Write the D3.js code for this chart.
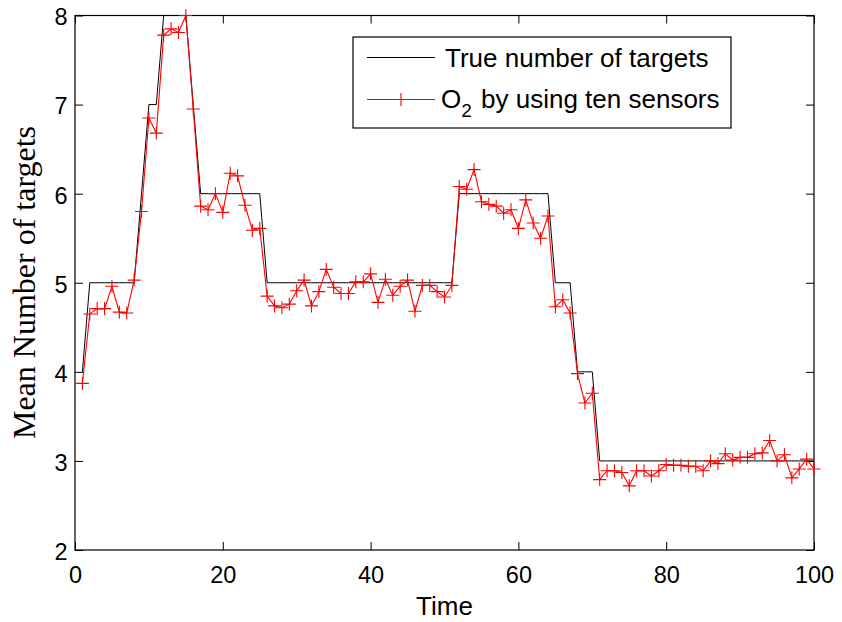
<!DOCTYPE html>
<html>
<head>
<meta charset="utf-8">
<script src="https://cdn.jsdelivr.net/npm/d3@7"></script>
<style>
  body { margin: 0; background: #fff; }
  svg { display: block; }
  text { font-family: "Liberation Sans", Arial, Helvetica, sans-serif; }
</style>
</head>
<body>
<svg id="chart" width="842" height="622"></svg>
<script>
// Time steps 1..100
const time = [
  1, 2, 3, 4, 5, 6, 7, 8, 9, 10,
  11, 12, 13, 14, 15, 16, 17, 18, 19, 20,
  21, 22, 23, 24, 25, 26, 27, 28, 29, 30,
  31, 32, 33, 34, 35, 36, 37, 38, 39, 40,
  41, 42, 43, 44, 45, 46, 47, 48, 49, 50,
  51, 52, 53, 54, 55, 56, 57, 58, 59, 60,
  61, 62, 63, 64, 65, 66, 67, 68, 69, 70,
  71, 72, 73, 74, 75, 76, 77, 78, 79, 80,
  81, 82, 83, 84, 85, 86, 87, 88, 89, 90,
  91, 92, 93, 94, 95, 96, 97, 98, 99, 100
];

// Ground-truth number of targets at each time step
const trueTargets = [
  4, 5, 5, 5, 5, 5, 5, 5, 6, 7,
  7, 8, 8, 8, 8, 7, 6, 6, 6, 6,
  6, 6, 6, 6, 6, 5, 5, 5, 5, 5,
  5, 5, 5, 5, 5, 5, 5, 5, 5, 5,
  5, 5, 5, 5, 5, 5, 5, 5, 5, 5,
  5, 6, 6, 6, 6, 6, 6, 6, 6, 6,
  6, 6, 6, 6, 5, 5, 5, 4, 4, 4,
  3, 3, 3, 3, 3, 3, 3, 3, 3, 3,
  3, 3, 3, 3, 3, 3, 3, 3, 3, 3,
  3, 3, 3, 3, 3, 3, 3, 3, 3, 3
];

// Mean estimated number of targets (O2, ten sensors)
const estimated = [
  3.87, 4.65, 4.71, 4.71, 4.96, 4.67, 4.66, 5.03, 5.80, 6.85,
  6.68, 7.78, 7.85, 7.81, 8.00, 6.95, 5.86, 5.82, 6.00, 5.79,
  6.23, 6.20, 5.87, 5.59, 5.61, 4.85, 4.74, 4.72, 4.76, 4.91,
  5.03, 4.74, 4.90, 5.15, 4.95, 4.88, 4.88, 5.01, 5.01, 5.10,
  4.78, 5.04, 4.86, 4.96, 5.03, 4.68, 4.97, 4.97, 4.90, 4.84,
  4.97, 6.08, 6.05, 6.27, 5.91, 5.88, 5.86, 5.78, 5.82, 5.61,
  5.93, 5.67, 5.50, 5.75, 4.73, 4.81, 4.66, 3.98, 3.65, 3.76,
  2.79, 2.89, 2.89, 2.87, 2.72, 2.89, 2.89, 2.83, 2.89, 2.96,
  2.95, 2.95, 2.94, 2.94, 2.89, 3.00, 2.97, 3.08, 3.01, 3.04,
  3.04, 3.08, 3.09, 3.23, 3.00, 3.07, 2.81, 2.91, 3.02, 2.91
];

const xTicks = [0, 20, 40, 60, 80, 100];
const yTicks = [2, 3, 4, 5, 6, 7, 8];
const legendLabels = ["True number of targets", "O", "2", " by using ten sensors"];
const axisLabels = { x: "Time", y: "Mean Number of targets" };

const svg = d3.select("#chart");
const plot = { left: 75, right: 814, top: 15.5, bottom: 550 };

const x = d3.scaleLinear().domain([0, 100]).range([plot.left, plot.right]);
const y = d3.scaleLinear().domain([2, 8]).range([plot.bottom, plot.top]);

const tickLen = 8;
const tickFont = 23.5;

// Bottom axis with inward ticks and labels
const gx = svg.append("g")
  .attr("transform", `translate(0,${plot.bottom})`)
  .call(d3.axisBottom(x).tickValues(xTicks).tickSize(-tickLen).tickPadding(16).tickFormat(d3.format("d")));
// Top axis: ticks only
const gxt = svg.append("g")
  .attr("transform", `translate(0,${plot.top})`)
  .call(d3.axisTop(x).tickValues(xTicks).tickSize(-tickLen).tickFormat(""));
// Left axis
const gy = svg.append("g")
  .attr("transform", `translate(${plot.left},0)`)
  .call(d3.axisLeft(y).tickValues(yTicks).tickSize(-tickLen).tickPadding(7.5).tickFormat(d3.format("d")));
// Right axis: ticks only
const gyr = svg.append("g")
  .attr("transform", `translate(${plot.right},0)`)
  .call(d3.axisRight(y).tickValues(yTicks).tickSize(-tickLen).tickFormat(""));

[gx, gxt, gy, gyr].forEach(g => {
  g.select(".domain").remove();
  g.selectAll(".tick line").attr("stroke", "#000").attr("stroke-width", 1);
  g.selectAll(".tick text")
    .attr("fill", "#000")
    .style("font-size", tickFont + "px")
    .style("font-family", '"Liberation Sans", Arial, sans-serif');
});
gy.selectAll(".tick text").attr("dy", "0.40em");

// Axes frame
svg.append("rect")
  .attr("x", plot.left).attr("y", plot.top)
  .attr("width", plot.right - plot.left).attr("height", plot.bottom - plot.top)
  .attr("fill", "none").attr("stroke", "#000").attr("stroke-width", 1.2);

// Series
const truePts = time.map((t, i) => [t, trueTargets[i]]);
const estPts = time.map((t, i) => [t, estimated[i]]);
const line = d3.line().x(d => x(d[0])).y(d => y(d[1]));

svg.append("path")
  .datum(truePts)
  .attr("d", line)
  .attr("fill", "none").attr("stroke", "#000").attr("stroke-width", 1);

svg.append("path")
  .datum(estPts)
  .attr("d", line)
  .attr("fill", "none").attr("stroke", "#ff0000").attr("stroke-width", 1.1);

const plusHalf = 6.5;
const plusPath = (cx, cy) => `M${cx - plusHalf},${cy}H${cx + plusHalf}M${cx},${cy - plusHalf}V${cy + plusHalf}`;
svg.append("g")
  .selectAll("path")
  .data(estPts)
  .join("path")
  .attr("d", d => plusPath(x(d[0]), y(d[1])))
  .attr("fill", "none").attr("stroke", "#ff0000").attr("stroke-width", 1.1);

// Axis titles
svg.append("text")
  .attr("x", (plot.left + plot.right) / 2)
  .attr("y", 615)
  .attr("text-anchor", "middle")
  .style("font-size", "26px")
  .attr("fill", "#000")
  .text(axisLabels.x);

svg.append("text")
  .attr("transform", `translate(35,${(125 + 440) / 2}) rotate(-90)`)
  .attr("text-anchor", "middle")
  .style("font-family", '"Liberation Serif", "Times New Roman", serif')
  .style("font-size", "32px")
  .attr("fill", "#000")
  .text(axisLabels.y);

// Legend
const legend = svg.append("g");
legend.append("rect")
  .attr("x", 353).attr("y", 37)
  .attr("width", 378).attr("height", 91)
  .attr("fill", "#fff").attr("stroke", "#000").attr("stroke-width", 1.2);

const row1 = 57.5, row2 = 99.5;
legend.append("line")
  .attr("x1", 367).attr("x2", 435).attr("y1", row1).attr("y2", row1)
  .attr("stroke", "#000").attr("stroke-width", 1);
legend.append("text")
  .attr("x", 445).attr("y", row1 + 9.5)
  .style("font-size", "26px").attr("fill", "#000")
  .text(legendLabels[0]);

legend.append("line")
  .attr("x1", 367).attr("x2", 435).attr("y1", row2).attr("y2", row2)
  .attr("stroke", "#ff0000").attr("stroke-width", 1.1);
legend.append("path")
  .attr("d", plusPath(401, row2))
  .attr("fill", "none").attr("stroke", "#ff0000").attr("stroke-width", 1.1);

const t2 = legend.append("text")
  .attr("x", 441).attr("y", row2 + 8.5)
  .style("font-size", "26px").attr("fill", "#000");
t2.append("tspan").text(legendLabels[1]);
t2.append("tspan").attr("dy", 9).style("font-size", "19px").text(legendLabels[2]);
t2.append("tspan").attr("dy", -9).attr("dx", 2).text(legendLabels[3]);
</script>
</body>
</html>
